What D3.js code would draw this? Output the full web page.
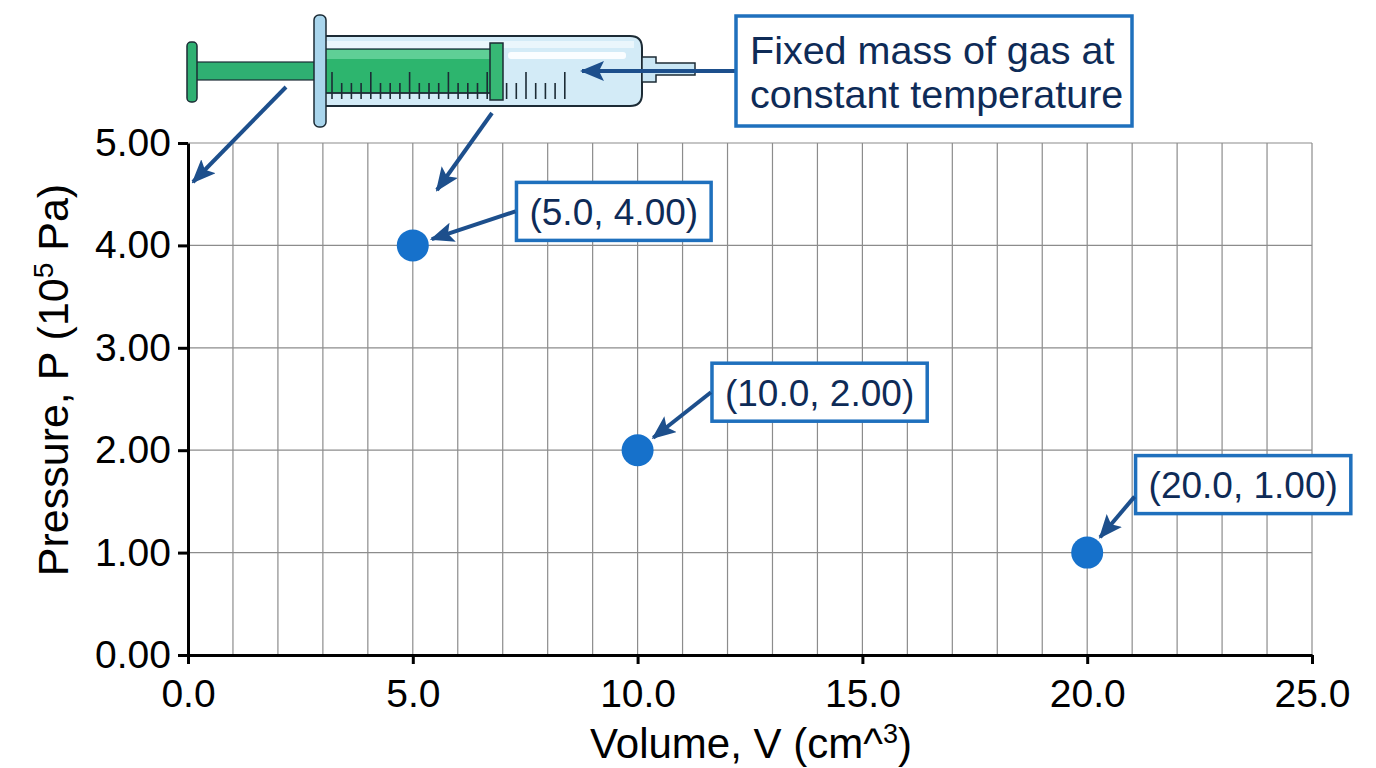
<!DOCTYPE html>
<html>
<head>
<meta charset="utf-8">
<script src="https://cdn.jsdelivr.net/npm/d3@7"></script>
<style>
  body { margin: 0; background: #fff; }
  svg text { font-family: "Liberation Sans", Arial, sans-serif; }
</style>
</head>
<body>
<div id="chart"></div>
<script>
// data
const volume = [5.0, 10.0, 20.0];
const pressure = [4.00, 2.00, 1.00];
const xTicks = [0, 5, 10, 15, 20, 25];
const yTicks = [0, 1, 2, 3, 4, 5];
const noteLines = ["Fixed mass of gas at", "constant temperature"];

// where each point label sits, relative to its point (pixels)
const labelOffsets = [
    {dx: 201, dy: -34, ay: 0},
    {dx: 182, dy: -58, ay: 0},
    {dx: 156, dy: -68, ay: 12}
];

const W = 1376, H = 768;
const margin = {top: 143, right: 64, bottom: 113, left: 188},
    width = W - margin.left - margin.right,
    height = H - margin.top - margin.bottom;

const svg = d3.select("#chart")
  .append("svg")
    .attr("width", W)
    .attr("height", H);

const defs = svg.append("defs");
defs.append("marker")
    .attr("id", "head")
    .attr("viewBox", "0 0 24 20")
    .attr("refX", 22)
    .attr("refY", 10)
    .attr("markerWidth", 24)
    .attr("markerHeight", 20)
    .attr("markerUnits", "userSpaceOnUse")
    .attr("orient", "auto")
  .append("path")
    .attr("d", "M0,0 L24,10 L0,20 L5,10 Z")
    .attr("fill", "#1d4f8c");

const g = svg.append("g")
    .attr("transform", `translate(${margin.left},${margin.top})`);

const x = d3.scaleLinear().domain([0, 25]).range([0, width]);
const y = d3.scaleLinear().domain([0, 5]).range([height, 0]);

// grid
g.append("g")
  .selectAll("line")
  .data(x.ticks(25).filter(d => d > 0))
  .join("line")
    .attr("x1", d => x(d)).attr("x2", d => x(d))
    .attr("y1", 0).attr("y2", height)
    .attr("stroke", "#8c8c8c")
    .attr("stroke-width", 1.2);
g.append("g")
  .selectAll("line")
  .data(y.ticks(5).filter(d => d > 0))
  .join("line")
    .attr("x1", 0).attr("x2", width)
    .attr("y1", d => y(d)).attr("y2", d => y(d))
    .attr("stroke", "#8c8c8c")
    .attr("stroke-width", 1.2);

// axes
const xAxis = g.append("g")
    .attr("transform", `translate(0,${height})`)
    .call(d3.axisBottom(x).tickValues(xTicks).tickFormat(d3.format(".1f"))
        .tickSize(9).tickSizeOuter(0).tickPadding(15));
const yAxis = g.append("g")
    .call(d3.axisLeft(y).tickValues(yTicks).tickFormat(d3.format(".2f"))
        .tickSize(10).tickSizeOuter(0).tickPadding(7));
[xAxis, yAxis].forEach(a => {
    a.select(".domain").attr("stroke", "#000").attr("stroke-width", 3);
    a.selectAll(".tick line").attr("stroke", "#000").attr("stroke-width", 3);
    a.selectAll(".tick text")
        .attr("fill", "#000")
        .style("font-size", "39px")
        .style("font-family", "'Liberation Sans', Arial, sans-serif");
});

// axis titles
const xt = svg.append("text")
    .attr("x", margin.left + width / 2 + 1)
    .attr("y", 758)
    .attr("text-anchor", "middle")
    .style("font-size", "42px")
    .attr("fill", "#000");
xt.append("tspan").text("Volume, V (cm^");
xt.append("tspan").attr("dy", -15).style("font-size", "27px").text("3");
xt.append("tspan").attr("dy", 15).text(")");

const yt = svg.append("text")
    .attr("transform", "translate(68,380) rotate(-90)")
    .attr("text-anchor", "middle")
    .style("font-size", "43px")
    .attr("fill", "#000");
yt.append("tspan").text("Pressure, P (10");
yt.append("tspan").attr("dy", -15).style("font-size", "28px").text("5");
yt.append("tspan").attr("dy", 15).text(" Pa)");

// points
const pts = volume.map((v, i) => ({v, p: pressure[i], off: labelOffsets[i]}));
g.selectAll(".pt")
  .data(pts)
  .join("circle")
    .attr("class", "pt")
    .attr("cx", d => x(d.v))
    .attr("cy", d => y(d.p))
    .attr("r", 16)
    .attr("fill", "#1671cb");

// point labels with arrows
const fmtV = d3.format(".1f"), fmtP = d3.format(".2f");
pts.forEach(d => {
    const cx = x(d.v), cy = y(d.p);
    const lx = cx + d.off.dx, ly = cy + d.off.dy;
    const lab = g.append("g");
    const rect = lab.append("rect");
    const t = lab.append("text")
        .attr("x", lx).attr("y", ly)
        .attr("text-anchor", "middle")
        .attr("dy", "0.36em")
        .style("font-size", "37px")
        .attr("fill", "#0e2b57")
        .text(`(${fmtV(d.v)}, ${fmtP(d.p)})`);
    const bb = t.node().getBBox();
    const bx = bb.x - 13, bw = bb.width + 26, by = ly - 29, bh = 58;
    rect.attr("x", bx).attr("y", by).attr("width", bw).attr("height", bh)
        .attr("fill", "#fff").attr("stroke", "#1f70bd").attr("stroke-width", 3.5);
    const sx = bx - 1, sy = ly + d.off.ay;
    const ang = Math.atan2(sy - cy, sx - cx);
    lab.append("line")
        .attr("x1", sx).attr("y1", sy)
        .attr("x2", cx + 20 * Math.cos(ang)).attr("y2", cy + 20 * Math.sin(ang))
        .attr("stroke", "#1d4f8c").attr("stroke-width", 4)
        .attr("marker-end", "url(#head)");
});

// syringe illustration
const syr = svg.append("g");
const dark = "#1c2b35";
syr.append("rect").attr("x", 196).attr("y", 62).attr("width", 128).attr("height", 18)
    .attr("fill", "#2fb072").attr("stroke", dark).attr("stroke-width", 1.2);
syr.append("rect").attr("x", 187).attr("y", 42).attr("width", 10).attr("height", 60).attr("rx", 4)
    .attr("fill", "#2fb072").attr("stroke", dark).attr("stroke-width", 1.5);
// barrel
syr.append("path")
    .attr("d", "M322,36 L630,36 Q642,36 642,48 L642,94 Q642,106 630,106 L322,106 Z")
    .attr("fill", "#d3ebf7").attr("stroke", dark).attr("stroke-width", 2);
syr.append("rect").attr("x", 326).attr("y", 41).attr("width", 308).attr("height", 7)
    .attr("fill", "#eaf6fc");
syr.append("rect").attr("x", 508).attr("y", 52).attr("width", 118).attr("height", 7).attr("rx", 3)
    .attr("fill", "#fafdff");
// neck and needle
syr.append("path")
    .attr("d", "M642,57 L656,57 L656,63 L695,63 L695,75 L656,75 L656,82 L642,82 Z")
    .attr("fill", "#c9e6f4").attr("stroke", dark).attr("stroke-width", 1.5);
// green plunger body
syr.append("rect").attr("x", 324).attr("y", 49).attr("width", 167).attr("height", 44)
    .attr("fill", "#2db56e").attr("stroke", dark).attr("stroke-width", 1.2);
syr.append("rect").attr("x", 325).attr("y", 50).attr("width", 165).attr("height", 9)
    .attr("fill", "#5fcf96");
// graduations
const grad = d3.range(0, 25);
syr.append("g").selectAll("line")
  .data(grad)
  .join("line")
    .attr("x1", i => 332 + i * 9.7).attr("x2", i => 332 + i * 9.7)
    .attr("y1", i => i % 4 === 0 ? 72 : 83).attr("y2", 99)
    .attr("stroke", dark).attr("stroke-width", 1.6);
syr.append("line").attr("x1", 326).attr("x2", 490).attr("y1", 93).attr("y2", 93)
    .attr("stroke", dark).attr("stroke-width", 1.5);
// stopper
syr.append("rect").attr("x", 490).attr("y", 43).attr("width", 13).attr("height", 57)
    .attr("fill", "#37b875").attr("stroke", dark).attr("stroke-width", 1.5);
// flange
syr.append("rect").attr("x", 314).attr("y", 15).attr("width", 12).attr("height", 112).attr("rx", 5)
    .attr("fill", "#a9d5ec").attr("stroke", dark).attr("stroke-width", 1.5);

// arrows from the syringe
const arrows = [
    [[286, 87], [193, 182]],
    [[492, 113], [437, 190]],
    [[736, 71], [582, 71]]
];
svg.append("g").selectAll("line")
  .data(arrows)
  .join("line")
    .attr("x1", d => d[0][0]).attr("y1", d => d[0][1])
    .attr("x2", d => d[1][0]).attr("y2", d => d[1][1])
    .attr("stroke", "#1d4f8c").attr("stroke-width", 4)
    .attr("marker-end", "url(#head)");

// note box
const note = svg.append("g");
note.append("rect").attr("x", 736).attr("y", 16).attr("width", 396).attr("height", 110)
    .attr("fill", "#fff").attr("stroke", "#1f70bd").attr("stroke-width", 3.5);
note.append("text")
    .attr("x", 750).attr("y", 64)
    .style("font-size", "39.5px")
    .attr("fill", "#0e2b57")
  .selectAll("tspan")
  .data(noteLines)
  .join("tspan")
    .attr("x", 750)
    .attr("dy", (d, i) => i === 0 ? 0 : 44)
    .text(d => d);
</script>
</body>
</html>
